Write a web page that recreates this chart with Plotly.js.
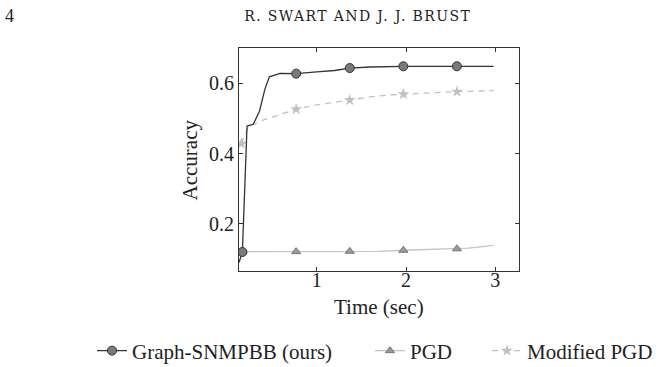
<!DOCTYPE html>
<html>
<head>
<meta charset="utf-8">
<script src="https://cdn.plot.ly/plotly-3.0.1.min.js"></script>
<style>
html,body{margin:0;padding:0;background:#fff;}
#chart{width:660px;height:367px;}
g.annotation[data-index="3"] text{letter-spacing:1.4px;}
</style>
</head>
<body>
<div id="chart"></div>
<script>
// ---- data ----
const markX = [0.168, 0.77, 1.37, 1.97, 2.57];

const snmpbbX = [0.168, 0.22, 0.29, 0.36, 0.42, 0.47, 0.59, 0.77, 1.0, 1.2, 1.37, 1.6, 1.97, 2.3, 2.57, 2.98];
const snmpbbY = [0.12, 0.478, 0.483, 0.521, 0.583, 0.618, 0.628, 0.627, 0.632, 0.636, 0.643, 0.646, 0.648, 0.647, 0.648, 0.648];
const leadX = [0.13, 0.168];
const leadY = [0.09, 0.12];

const pgdX = [0.168, 0.5, 0.77, 1.1, 1.37, 1.7, 1.97, 2.3, 2.57, 2.7, 2.98];
const pgdY = [0.121, 0.121, 0.121, 0.121, 0.122, 0.122, 0.125, 0.127, 0.129, 0.131, 0.139];

const modX = [0.157, 0.232, 0.4, 0.6, 0.77, 1.0, 1.2, 1.37, 1.6, 1.8, 1.97, 2.3, 2.57, 2.98];
const modY = [0.428, 0.476, 0.495, 0.512, 0.526, 0.538, 0.546, 0.552, 0.561, 0.566, 0.569, 0.573, 0.576, 0.579];

const seriesNames = ["Graph-SNMPBB (ours)", "PGD", "Modified PGD"];
const xTicks = [1, 2, 3];
const yTicks = [0.2, 0.4, 0.6];
const yTickText = ["0.2", "0.4", "0.6"];
const xTitle = "Time (sec)";
const yTitle = "Accuracy";
const pageNo = "4";
const header = "R. SWART AND J. J. BRUST";

// ---- helpers ----
const T = 'rgba(0,0,0,0)';
function isMark(v) { return markX.some(m => Math.abs(m - v) < 1e-6); }
function markCols(xs, c) {
  return xs.map((v, i) => (i === 0 || isMark(v)) ? c : T);
}

const FONT = 'Liberation Serif, DejaVu Serif, serif';
const FS = 21;

const traces = [
  { x: leadX, y: leadY, mode: 'lines', line: {color: '#333', width: 1.3}, showlegend: false, hoverinfo: 'skip' },
  { x: pgdX, y: pgdY, name: seriesNames[1], mode: 'lines+markers', legend: 'legend2',
    line: {color: '#c4c4c4', width: 1.3},
    marker: {symbol: 'triangle-up', size: 8, color: markCols(pgdX, '#9a9a9a'), line: {color: markCols(pgdX, '#777'), width: 1}} },
  { x: modX, y: modY, name: seriesNames[2], mode: 'lines+markers', legend: 'legend3',
    line: {color: '#c0c0c0', width: 1.3, dash: '6px,5px'},
    marker: {symbol: 'star', size: 9, color: markCols(modX, '#c0c0c0'), line: {width: 0}} },
  { x: snmpbbX, y: snmpbbY, name: seriesNames[0], mode: 'lines+markers', legend: 'legend',
    line: {color: '#333', width: 1.3},
    marker: {symbol: 'circle', size: 9, color: markCols(snmpbbX, '#7a7a7a'), line: {color: markCols(snmpbbX, '#333'), width: 1}} }
];

function leg(xpx) {
  return {orientation: 'h', xref: 'container', yref: 'container', x: xpx / 660, xanchor: 'left',
          y: 1 - 351 / 367, yanchor: 'middle', font: {family: FONT, size: FS, color: '#222'},
          itemwidth: 30, bgcolor: 'rgba(0,0,0,0)', borderwidth: 0};
}

const layout = {
  width: 660, height: 367,
  margin: {l: 239, r: 141, t: 48, b: 96, pad: 0, autoexpand: false},
  paper_bgcolor: '#fff', plot_bgcolor: '#fff',
  font: {family: FONT, size: FS, color: '#222'},
  showlegend: true,
  legend: leg(92),
  legend2: leg(370),
  legend3: leg(487),
  xaxis: {range: [0.13, 3.265], tickvals: xTicks, ticktext: xTicks.map(String), ticks: 'inside', ticklen: 4,
          tickcolor: '#333', showline: true, linecolor: '#333', linewidth: 1, mirror: 'ticks',
          showgrid: false, zeroline: false, tickfont: {family: FONT, size: 20}, ticklabelstandoff: -9},
  yaxis: {range: [0.066, 0.70], tickvals: yTicks, ticktext: yTickText, ticks: 'inside', ticklen: 4,
          tickcolor: '#333', showline: true, linecolor: '#333', linewidth: 1, mirror: 'ticks',
          showgrid: false, zeroline: false, tickfont: {family: FONT, size: 20}},
  annotations: [
    {text: xTitle, xref: 'paper', yref: 'paper', x: 0.5, y: (271 - 307) / 224, xanchor: 'center', yanchor: 'middle', showarrow: false,
     font: {family: FONT, size: FS, color: '#222'}},
    {text: yTitle, xref: 'paper', yref: 'paper', x: (190 - 239) / 280, y: (271 - 160) / 224, xanchor: 'center', yanchor: 'middle', showarrow: false,
     textangle: -90, font: {family: FONT, size: FS, color: '#222'}},
    {text: pageNo, xref: 'paper', yref: 'paper', x: (3 - 239) / 280, y: (271 - 15) / 224, xanchor: 'left', yanchor: 'middle', showarrow: false,
     font: {family: FONT, size: 18, color: '#222'}},
    {text: header, xref: 'paper', yref: 'paper', x: (259 - 239) / 280, y: (271 - 15) / 224, xanchor: 'left', yanchor: 'middle', showarrow: false,
     font: {family: 'DejaVu Serif, serif', size: 14, color: '#222'}}
  ]
};

Plotly.newPlot('chart', traces, layout, {displayModeBar: false, staticPlot: true});
</script>
</body>
</html>
